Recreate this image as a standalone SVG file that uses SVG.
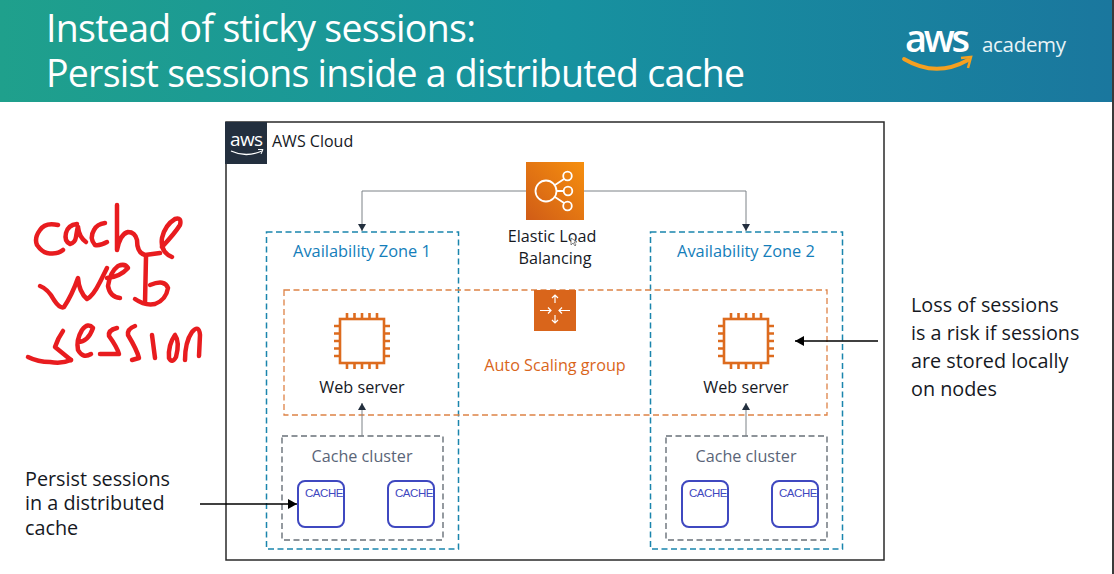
<svg xmlns="http://www.w3.org/2000/svg" width="1114" height="574" viewBox="0 0 1114 574">
<style>
text{font-family:"Open Sans","Noto Sans","Liberation Sans",sans-serif}
.title{font-size:37.5px;fill:#fff}
.lbl{font-size:16.2px;fill:#16191f;text-anchor:middle}
.note{font-size:19.8px;fill:#16191f}
.az{font-size:16.4px;fill:#147eba;text-anchor:middle}
.azb{fill:#fff;fill-opacity:0;stroke:#1a85ad;stroke-width:1.5;stroke-dasharray:6 3.5}
.cl{fill:none;stroke:#687078;stroke-width:1.4;stroke-dasharray:6 3.5}
.clt{font-size:16.2px;fill:#5a6578;text-anchor:middle}
.cb{fill:#fff;stroke:#3f48c0;stroke-width:2}
.ct{font-family:"Liberation Sans",Arial,sans-serif;font-size:11.5px;fill:#3f48c0;letter-spacing:-.45px}
.conn{fill:none;stroke:#7d8287;stroke-width:1}
.bk{fill:none;stroke:#000;stroke-width:1.6}
.ink{fill:none;stroke:#e81c1f;stroke-width:4.5;stroke-linecap:round;stroke-linejoin:round}
.chip{fill:none;stroke:#dd6b1e;stroke-width:2.6}
</style>
<defs>
<linearGradient id="hdr" x1="0" y1="0" x2="1" y2="0"><stop offset="0" stop-color="#1fa08c"/><stop offset=".5" stop-color="#17929f"/><stop offset="1" stop-color="#1a779e"/></linearGradient>
<linearGradient id="elbg" x1="0" y1="1" x2="1" y2="0"><stop offset="0" stop-color="#d05c17"/><stop offset="1" stop-color="#f68f0e"/></linearGradient>
<marker id="ah" markerWidth="8" markerHeight="8" refX="7" refY="4" orient="auto" markerUnits="userSpaceOnUse"><path d="M0 0L7 4L0 8Z" fill="#232f3e"/></marker>
<marker id="ahb" markerWidth="10" markerHeight="10" refX="9" refY="5" orient="auto" markerUnits="userSpaceOnUse"><path d="M0 0L9 5L0 10Z" fill="#000"/></marker>
<g id="chipicon">
<rect x="-22" y="-22" width="44" height="44" class="chip"/>
<path class="chip" d="M-15-22v-6M-7.500-22v-6M0-22v-6M7.500-22v-6M15-22v-6M-15 22v6M-7.500 22v6M0 22v6M7.500 22v6M15 22v6M-22-15h-6M-22-7.500h-6M-22 0h-6M-22 7.500h-6M-22 15h-6M22-15h6M22-7.500h6M22 0h6M22 7.500h6M22 15h6"/>
</g>
</defs>
<rect width="1114" height="574" fill="#fff"/>
<g id="header">
<rect width="1112" height="102" fill="url(#hdr)"/>
<rect x="1112" width="2" height="574" fill="#3a3a3a"/>
<text class="title" x="46" y="42" textLength="430">Instead of sticky sessions:</text>
<text class="title" x="46" y="87" textLength="699">Persist sessions inside a distributed cache</text>
</g>
<g id="aws-academy-logo">
<text x="905" y="52" font-size="38" fill="#fff" font-weight="600" textLength="65">aws</text>
<text x="982" y="52" font-size="20.500" fill="#e8f4f7" font-weight="400" textLength="84">academy</text>
<path d="M904 59Q936 78 968 60" fill="none" stroke="#f5a020" stroke-width="3.800" stroke-linecap="round"/>
<path d="M961 58L971 57L968 68" fill="none" stroke="#f5a020" stroke-width="2.500"/>
</g>
<g id="aws-cloud">
<rect x="226" y="122" width="658" height="438" fill="none" stroke="#2a2a2a" stroke-width="1.500"/>
<rect x="225" y="122" width="42" height="42" fill="#232f3e"/>
<text x="230" y="146" font-size="19" fill="#fff" textLength="33">aws</text>
<path d="M231 151Q246 158 262 151" fill="none" stroke="#fff" stroke-width="1.300"/>
<path d="M258 149.500L263 149.500L261 154" fill="none" stroke="#fff" stroke-width="1"/>
<text x="272" y="147" font-size="16" fill="#16191f">AWS Cloud</text>
</g>
<g id="az1"><rect class="azb" x="266.500" y="232" width="192" height="317"/><text class="az" x="362" y="257">Availability Zone 1</text></g>
<g id="az2"><rect class="azb" x="650.500" y="232" width="192" height="317"/><text class="az" x="746" y="257">Availability Zone 2</text></g>
<g id="asg">
<rect x="284" y="290" width="543" height="125" fill="none" stroke="#dd8246" stroke-width="1.300" stroke-dasharray="6 3.500"/>
<rect x="534" y="290" width="42" height="41" fill="#d9651b"/>
<path d="M555 295v8M555 315v8M552 298l3-3l3 3M552 320l3 3l3-3M540 310.500h11M570 310.500h-11M548 307.500l3 3l-3 3M562 307.500l-3 3l3 3" fill="none" stroke="#fff" stroke-width="1.200"/>
<text x="555" y="371" font-size="16.200" fill="#d9651b" text-anchor="middle">Auto Scaling group</text>
</g>
<g id="elb">
<rect x="526" y="162" width="58" height="58" fill="url(#elbg)"/>
<g fill="none" stroke="#fff" stroke-width="1.800">
<circle cx="546" cy="191" r="10.500"/><circle cx="567.500" cy="176" r="4.300"/><circle cx="568" cy="191" r="4.300"/><circle cx="567.500" cy="206" r="4.300"/>
<path d="M556 191h7.500M555 185l9-6M555 197l9 6"/>
</g>
<text class="lbl" x="552" y="242">Elastic Load</text>
<text class="lbl" x="555" y="264">Balancing</text>
</g>
<g id="web-server-1"><use href="#chipicon" x="362" y="341"/><text class="lbl" x="362" y="393">Web server</text></g>
<g id="web-server-2"><use href="#chipicon" x="746" y="341"/><text class="lbl" x="746" y="393">Web server</text></g>
<g id="cache-cluster-1">
<rect class="cl" x="282" y="436" width="161" height="104"/>
<text class="clt" x="362" y="462">Cache cluster</text>
<rect class="cb" x="298" y="481" width="46" height="46" rx="7"/><text class="ct" x="305" y="497">CACHE</text>
<rect class="cb" x="388" y="481" width="46" height="46" rx="7"/><text class="ct" x="395" y="497">CACHE</text>
</g>
<g id="cache-cluster-2">
<rect class="cl" x="666" y="436" width="161" height="104"/>
<text class="clt" x="746" y="462">Cache cluster</text>
<rect class="cb" x="682" y="481" width="46" height="46" rx="7"/><text class="ct" x="689" y="497">CACHE</text>
<rect class="cb" x="772" y="481" width="46" height="46" rx="7"/><text class="ct" x="779" y="497">CACHE</text>
</g>
<g id="connectors">
<path class="conn" d="M526 191H362V231" marker-end="url(#ah)"/>
<path class="conn" d="M584 191H746V231" marker-end="url(#ah)"/>
<path class="conn" d="M362 436V403" marker-end="url(#ah)"/>
<path class="conn" d="M746 436V403" marker-end="url(#ah)"/>
<path class="bk" d="M200 504H297" marker-end="url(#ahb)"/>
<path class="bk" d="M878 341H795" marker-end="url(#ahb)"/>
</g>
<g id="note-right">
<text class="note" x="911" y="312">Loss of sessions</text>
<text class="note" x="911" y="340">is a risk if sessions</text>
<text class="note" x="911" y="368">are stored locally</text>
<text class="note" x="911" y="396">on nodes</text>
</g>
<g id="note-left">
<text class="note" x="25" y="486">Persist sessions</text>
<text class="note" x="25" y="510">in a distributed</text>
<text class="note" x="25" y="535">cache</text>
</g>
<path id="cursor" d="M571 238v7l2-2l2 3l1-1l-2-3h3Z" fill="#fff" stroke="#555" stroke-width=".7"/>
<g id="handwriting" class="ink">
<path d="M58 225Q45 222 40 230Q34 238 37 245Q42 252 47 253Q57 255 63 250"/>
<path d="M77 224Q68 225 66 233Q64 241 70 244Q75 243 76 237Q78 225 78 227Q79 237 86 242"/>
<path d="M105 223Q97 224 94 230Q89 238 95 245Q100 246 107 242"/>
<path d="M117 205V250Q120 234 128 232Q135 232 137 240Q137 253 145 255L160 253"/>
<path d="M162 247Q175 233 180 225Q182 217 175 219Q165 225 162 238Q160 252 172 257"/>
<path d="M40 286Q48 289 54 300Q60 309 64 307Q72 295 78 278Q79 292 87 299Q93 296 100 282L107 268"/>
<path d="M107 278Q120 277 128 268Q125 263 118 266Q110 272 108 286Q110 297 120 298"/>
<path d="M146 257L145 303"/>
<path d="M135 299Q145 306 155 304Q166 300 168 288Q165 279 150 285"/>
<path d="M63 331Q58 338 55 347L71 360"/>
<path d="M28 357Q38 362 50 362Q62 364 71 360"/>
<path d="M78 342Q88 342 93 328Q88 322 82 330Q76 340 78 350Q83 359 91 354"/>
<path d="M117 328Q108 330 109 336Q117 347 119 354L100 354"/>
<path d="M135 326Q127 329 128 335Q137 350 139 358L132 360"/>
<path d="M152 335L155 358"/>
<path d="M175 335Q168 345 169 358Q172 364 176 357Q180 342 175 335"/>
<path d="M185 360Q185 342 192 332Q199 324 200 335L199 356"/>
</g>
</svg>
